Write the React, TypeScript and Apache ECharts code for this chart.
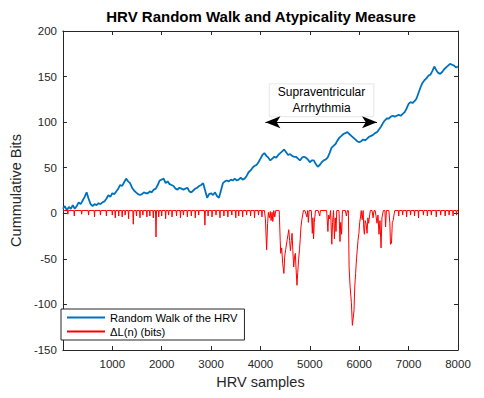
import React, { useEffect, useRef } from 'react';
import * as echarts from 'echarts';

// Random walk of the HRV: one value every WALK_STEP samples, starting at sample 0
const WALK_STEP = 40;
const walkValues = [
  5, 8, 3, 7, 5, 9, 5, 8, 12, 10, 14, 18, 23, 16, 10, 8, 10, 9, 11, 10,
  12, 13, 16, 20, 18, 22, 21, 24, 27, 31, 30, 34, 38, 35, 33, 28, 25, 23, 21, 20,
  21, 23, 22, 22, 24, 23, 26, 27, 31, 36, 37, 38, 33, 35, 32, 31, 30, 27, 26, 28,
  27, 26, 27, 28, 24, 23, 25, 27, 28, 30, 31, 33, 25, 17, 21, 22, 20, 23, 19, 17,
  25, 33, 35, 36, 35, 37, 36, 38, 36, 37, 39, 37, 38, 41, 45, 47, 50, 52, 53, 56,
  60, 64, 66, 63, 61, 58, 60, 62, 61, 64, 66, 68, 70, 67, 64, 65, 63, 62, 62, 60,
  58, 61, 62, 61, 59, 56, 58, 58, 54, 51, 53, 56, 58, 59, 61, 66, 72, 74, 76, 80,
  83, 85, 87, 88, 89, 87, 85, 83, 81, 79, 78, 79, 81, 80, 82, 84, 85, 86, 88, 89,
  92, 95, 99, 102, 104, 104, 106, 107, 106, 107, 108, 107, 109, 111, 115, 120, 122, 121, 123, 126,
  132, 138, 143, 146, 148, 151, 152, 156, 161, 157, 154, 153, 155, 158, 160, 162, 164, 163, 162, 160,
  161,
];

// Atypicality measure ΔL(n) (bits)
const redX = [
  0, 92, 100, 108, 222, 230, 238, 372, 380, 388, 512, 520, 528, 632, 640, 648, 752, 760, 768,
  872, 880, 888, 992, 1000, 1008, 1052, 1060, 1068, 1122, 1130, 1138, 1192, 1200, 1208, 1252, 1260, 1268,
  1322, 1330, 1338, 1415, 1425, 1435, 1482, 1490, 1498, 1552, 1560, 1568, 1612, 1620, 1628,
  1692, 1700, 1708, 1752, 1760, 1768, 1822, 1830, 1838, 1875, 1885, 1895, 1932, 1940, 1948,
  1992, 2000, 2008, 2072, 2080, 2088, 2132, 2140, 2148, 2202, 2210, 2218, 2292, 2300, 2308,
  2372, 2380, 2388, 2432, 2440, 2448, 2512, 2520, 2528, 2592, 2600, 2608, 2672, 2680, 2688,
  2742, 2750, 2758, 2865, 2875, 2885, 2932, 2940, 2948, 3012, 3020, 3028, 3092, 3100, 3108,
  3172, 3180, 3188, 3252, 3260, 3268, 3332, 3340, 3348, 3412, 3420, 3428, 3492, 3500, 3508,
  3552, 3560, 3568, 3632, 3640, 3648, 3712, 3720, 3728, 3792, 3800, 3808, 3872, 3880, 3888,
  3952, 3960, 3968, 4022, 4030, 4038,
  4080, 4100, 4125, 4145, 4160, 4180, 4200, 4215, 4235, 4250, 4270, 4290, 4310, 4360,
  4380, 4400, 4410, 4430, 4450, 4475, 4490, 4510, 4541, 4574, 4590, 4607, 4625, 4640, 4655,
  4673, 4690, 4706, 4720, 4739, 4755, 4772, 4790, 4805, 4820, 4838, 4871,
  4900, 4940, 4955, 4970, 4985, 5030, 5050, 5062, 5075, 5090, 5102, 5115, 5168, 5200, 5215,
  5340, 5366, 5380, 5399, 5420, 5445, 5460, 5480, 5498, 5515, 5530, 5545, 5590, 5610, 5625,
  5643, 5660, 5720, 5740, 5760, 5780, 5795, 5815, 5841, 5861, 5878, 5894, 5910, 5927, 5945,
  5960, 5975, 5993, 6010, 6026, 6040, 6059, 6080, 6092, 6105, 6120, 6140, 6158, 6175, 6190,
  6224, 6260, 6280, 6300, 6323, 6340, 6360, 6380, 6400, 6420, 6442, 6460, 6488, 6520, 6534,
  6550, 6600, 6620, 6633, 6653, 6670, 6686, 6719,
  6792, 6800, 6808, 6872, 6880, 6888, 6952, 6960, 6968, 7032, 7040, 7048, 7112, 7120, 7128,
  7192, 7200, 7208, 7292, 7300, 7308, 7372, 7380, 7388, 7452, 7460, 7468, 7552, 7560, 7568,
  7642, 7650, 7658, 7732, 7740, 7748, 7812, 7820, 7828, 7892, 7900, 7908, 7962, 7970, 7978, 8000,
];
const redY = [
  3, 3, -1, 3, 3, -3, 3, 3, -1, 3, 3, -2, 3, 3, -4, 3, 3, -2, 3,
  3, -3, 3, 3, -2, 3, 3, -5, 3, 3, -3, 3, 3, -4, 3, 3, -2, 3,
  3, -6, 3, 3, -12, 3, 3, -3, 3, 3, -5, 3, 3, -2, 3,
  3, -4, 3, 3, -3, 3, 3, -5, 3, 3, -26, 3, 3, -4, 3,
  3, -3, 3, 3, -6, 3, 3, -2, 3, 3, -4, 3, 3, -3, 3,
  3, -5, 3, 3, -2, 3, 3, -4, 3, 3, -3, 3, 3, -5, 3,
  3, -2, 3, 3, -13, 3, 3, -3, 3, 3, -4, 3, 3, -2, 3,
  3, -5, 3, 3, -3, 3, 3, -4, 3, 3, -2, 3, 3, -5, 3,
  3, -3, 3, 3, -4, 3, 3, -2, 3, 3, -3, 3, 3, -5, 3,
  3, -2, 3, 3, -4, 3,
  3, -6, -40, -11, 1, -5, 2, -8, 1, -9, 3, -4, 3, 3,
  3, -30, -44, -38, -55, -66, -48, -40, -29, -18, -30, -41, -30, -22, -40,
  -59, -48, -44, -60, -79, -65, -51, -40, -29, -15, -7, 3,
  3, -4, 3, -10, 3, 3, -22, -5, -28, -10, -10, 3, 3, -3, 3,
  3, -20, -2, -6, 3, -34, -10, 3, -28, -5, -20, 3, 3, -31, -10,
  -23, 3, 3, -3, 3, 3, -59, -80, -98, -123, -115, -107, -80, -66, -50,
  -40, -30, -22, -10, -4, 3, -7, 3, -17, -23, -8, -12, -22, -5, -11,
  3, 3, -5, 3, 3, -3, -11, -2, -23, -8, -38, -5, 3, 3, -15,
  3, 3, -11, -34, -33, -10, -8, 3,
  3, -3, 3, 3, -2, 3, 3, -4, 3, 3, -2, 3, 3, -3, 3,
  3, -5, 3, 3, -2, 3, 3, -3, 3, 3, -2, 3, 3, -4, 3,
  3, -2, 3, 3, -3, 3, 3, -2, 3, 3, -3, 3, 3, -2, 3, 3,
];

// Annotation (data coordinates)
const arrowFrom = [4100, 100];
const arrowTo = [6360, 100];
const noteBoxX = [4178, 6296];
const noteBoxY = [106, 142];
const noteText = 'Supraventricular\nArrhythmia';

const FONT = '"Liberation Sans", Arial, Helvetica, sans-serif';
const AXIS_COLOR = '#262626';

export default function App() {
  const ref = useRef<HTMLDivElement>(null);
  useEffect(() => {
    if (!ref.current) return;
    const chart = echarts.init(ref.current, undefined, { renderer: 'svg' });
    const walkData = walkValues.map((v, i) => [i * WALK_STEP, v]);
    const redData = redX.map((x, i) => [x, redY[i]]);
    const axisCommon = {
      type: 'value' as const,
      axisLine: { show: true, onZero: false, lineStyle: { color: AXIS_COLOR, width: 1 } },
      axisTick: { show: true, inside: true, length: 4, lineStyle: { color: AXIS_COLOR } },
      splitLine: { show: false },
    };
    chart.setOption({
      animation: false,
      backgroundColor: '#ffffff',
      textStyle: { fontFamily: FONT },
      title: {
        text: 'HRV Random Walk and Atypicality Measure',
        left: 256,
        top: 4,
        textAlign: 'center',
        textStyle: { fontFamily: FONT, fontSize: 15, fontWeight: 'bold', color: '#000' },
      },
      grid: { left: 54, right: 26, top: 31, bottom: 48 },
      legend: {
        left: 61,
        top: 309,
        orient: 'vertical',
        backgroundColor: '#ffffff',
        borderColor: AXIS_COLOR,
        borderWidth: 1,
        padding: [3, 7, 3, 6],
        itemGap: 3,
        itemWidth: 38,
        itemHeight: 2,
        icon: 'rect',
        textStyle: { fontFamily: FONT, fontSize: 11.2, color: '#000' },
        data: ['Random Walk of the HRV', 'ΔL(n) (bits)'],
      },
      xAxis: [
        {
          ...axisCommon,
          min: 0,
          max: 8000,
          interval: 1000,
          name: 'HRV samples',
          nameLocation: 'middle',
          nameGap: 23,
          nameTextStyle: { fontFamily: FONT, fontSize: 14.5, color: AXIS_COLOR },
          axisLabel: {
            color: AXIS_COLOR,
            fontSize: 11.5,
            margin: 8,
            formatter: (v: number) => (v === 0 ? '' : String(v)),
          },
        },
        {
          ...axisCommon,
          position: 'top',
          min: 0,
          max: 8000,
          interval: 1000,
          axisLabel: { show: false },
        },
      ],
      yAxis: [
        {
          ...axisCommon,
          min: -150,
          max: 200,
          interval: 50,
          name: 'Cummulative Bits',
          nameLocation: 'middle',
          nameGap: 32,
          nameTextStyle: { fontFamily: FONT, fontSize: 14.5, color: AXIS_COLOR },
          axisLabel: { color: AXIS_COLOR, fontSize: 11.5, margin: 6 },
        },
        {
          ...axisCommon,
          position: 'right',
          min: -150,
          max: 200,
          interval: 50,
          axisLabel: { show: false },
        },
      ],
      series: [
        {
          name: 'Random Walk of the HRV',
          type: 'line',
          data: walkData,
          showSymbol: false,
          symbol: 'none',
          color: '#0072BD',
          lineStyle: { color: '#0072BD', width: 1.8 },
          z: 2,
          markArea: {
            silent: true,
            itemStyle: { color: '#ffffff', borderColor: '#e6e6e6', borderWidth: 1 },
            label: {
              show: true,
              position: 'inside',
              color: '#000',
              fontFamily: FONT,
              fontSize: 12,
              lineHeight: 16,
              align: 'center',
            },
            data: [
              [
                { name: noteText, coord: [noteBoxX[0], noteBoxY[1]] },
                { coord: [noteBoxX[1], noteBoxY[0]] },
              ],
            ],
          },
          markLine: {
            silent: true,
            symbol: ['arrow', 'arrow'],
            symbolSize: [9, 15],
            label: { show: false },
            lineStyle: { color: '#000', width: 1, type: 'solid' },
            emphasis: { disabled: true },
            data: [[{ coord: arrowFrom }, { coord: arrowTo }]],
          },
        },
        {
          name: 'ΔL(n) (bits)',
          type: 'line',
          data: redData,
          showSymbol: false,
          symbol: 'none',
          color: '#ff0000',
          lineStyle: { color: '#ff0000', width: 1 },
          z: 3,
        },
      ],
    });
    return () => chart.dispose();
  }, []);
  return (
    <div
      ref={ref}
      style={{ position: 'fixed', left: 0, top: 0, width: 484, height: 398 }}
    />
  );
}
